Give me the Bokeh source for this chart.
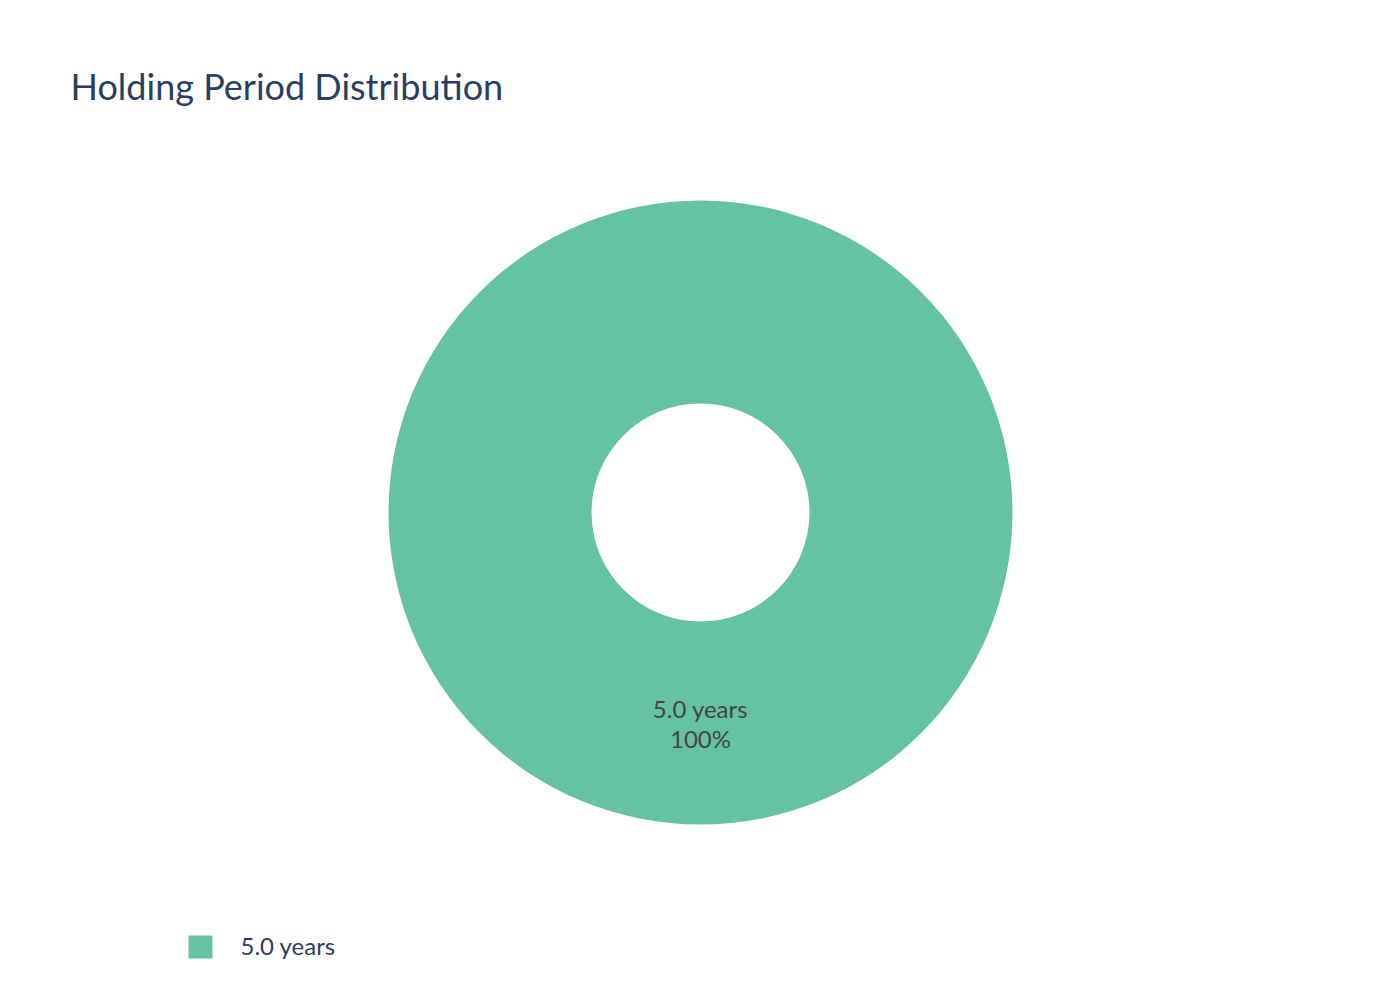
from math import pi, cos, sin

from bokeh.core.properties import value
from bokeh.embed import file_html
from bokeh.models import ColumnDataSource, Range1d
from bokeh.plotting import figure
from bokeh.resources import INLINE

title = "Holding Period Distribution"
labels = ["5.0 years"]
counts = [1]
colors = ["#66c2a5"]

W, H = 1384, 984
cx, cy = 700, 472
outerR, innerR = 312, 109
font = value("Lato")

total = sum(counts)
starts, ends, labelX, labelY, pcts = [], [], [], [], []
angle = pi / 2
for c in counts:
	sweep = 2 * pi * c / total
	starts.append(angle - sweep)
	ends.append(angle)
	mid = angle - sweep / 2
	labelX.append(cx + (outerR + innerR) / 2 * cos(mid))
	labelY.append(cy + (outerR + innerR) / 2 * sin(mid))
	pcts.append(f"{round(100 * c / total)}%")
	angle -= sweep

src = ColumnDataSource(dict(label=labels, start=starts, end=ends, color=colors,
	lx=labelX, ly=labelY, pct=pcts))

p = figure(width=W, height=H, x_range=Range1d(0, W), y_range=Range1d(0, H),
	output_backend="svg", toolbar_location=None, min_border=0)
p.axis.visible = False
p.grid.visible = False
p.outline_line_color = None

p.annular_wedge(x=cx, y=cy, inner_radius=innerR, outer_radius=outerR,
	start_angle="start", end_angle="end", fill_color="color", line_color="white",
	line_width=0, source=src)

p.text(x="lx", y="ly", text="label", source=src, y_offset=-15,
	text_align="center", text_baseline="middle", text_font=font,
	text_font_size="24px", text_color="#444444")
p.text(x="lx", y="ly", text="pct", source=src, y_offset=15,
	text_align="center", text_baseline="middle", text_font=font,
	text_font_size="24px", text_color="#444444")

# title
p.text(x=[70], y=[898.5], text=[title], text_align="left", text_baseline="middle",
	text_font=font, text_font_size="36px", text_color="#2a3f5f")

# legend along the bottom
legX = [200 for i in range(len(labels))]
legY = [37.5 - 30 * i for i in range(len(labels))]
p.rect(x=legX, y=legY, width=24, height=23, fill_color=colors, line_color=None)
p.text(x=[x + 40 for x in legX], y=[y + 2 for y in legY], text=labels, text_align="left",
	text_baseline="middle", text_font=font, text_font_size="24px",
	text_color="#2a3f5f")

open("out.html", "w").write(file_html(p, INLINE))
